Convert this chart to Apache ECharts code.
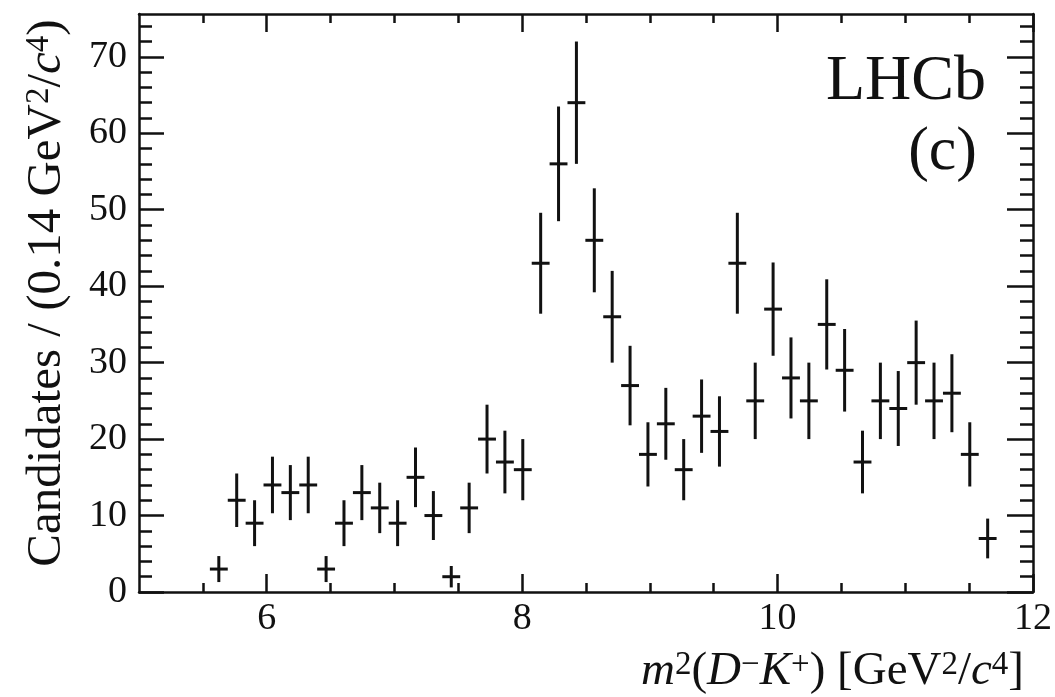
<!doctype html>
<html><head><meta charset="utf-8" />
<style>
  html,body,#app{margin:0;padding:0;width:1055px;height:697px;background:#ffffff}
</style>
<script src="https://cdn.jsdelivr.net/npm/echarts@6/dist/echarts.min.js"></script>
</head><body><div id="app"></div>
<script>
// bin centres of m^2(D-K+) [GeV^2/c^4], bin width 0.14
const binCentres = [5.625, 5.765, 5.905, 6.045, 6.185, 6.325, 6.465, 6.605, 6.745, 6.885,
  7.025, 7.165, 7.305, 7.445, 7.585, 7.725, 7.865, 8.005, 8.145, 8.285,
  8.425, 8.565, 8.705, 8.845, 8.985, 9.125, 9.265, 9.405, 9.545, 9.685,
  9.825, 9.965, 10.105, 10.245, 10.385, 10.525, 10.665, 10.805, 10.945, 11.085,
  11.225, 11.365, 11.505, 11.645];
const candidates = [3, 12, 9, 14, 13, 14, 3, 9, 13, 11,
  9, 15, 10, 2, 11, 20, 17, 16, 43, 56,
  64, 46, 36, 27, 18, 22, 16, 23, 21, 43,
  25, 37, 28, 25, 35, 29, 17, 25, 24, 30,
  25, 26, 18, 7];
const errors = [1.7, 3.5, 3.0, 3.7, 3.6, 3.7, 1.7, 3.0, 3.6, 3.3,
  3.0, 3.9, 3.2, 1.4, 3.3, 4.5, 4.1, 4.0, 6.6, 7.5,
  8.0, 6.8, 6.0, 5.2, 4.2, 4.7, 4.0, 4.8, 4.6, 6.6,
  5.0, 6.1, 5.3, 5.0, 5.9, 5.4, 4.1, 5.0, 4.9, 5.5,
  5.0, 5.1, 4.2, 2.6];
const binHalfWidth = 0.07;
const xMajorTicks = [6, 8, 10, 12];
const xMinorTicks = [5.5, 6.5, 7, 7.5, 8.5, 9, 9.5, 10.5, 11, 11.5];
const yMajorTicks = [0, 10, 20, 30, 40, 50, 60, 70];
const yMinorTicks = [2, 4, 6, 8, 12, 14, 16, 18, 22, 24, 26, 28, 32, 34, 36, 38,
  42, 44, 46, 48, 52, 54, 56, 58, 62, 64, 66, 68, 72, 74];

(function(){
  const FONT = "'Liberation Serif', 'DejaVu Serif', serif";
  const INK = '#111';
  const points = binCentres.map((x, i) => [x, candidates[i], errors[i]]);

  function xAx(pos, ticks, len, showLine, showLabel){
    return {
      type:'value', position:pos, min:5, max:12,
      axisLine:{ show:showLine, onZero:false, lineStyle:{ color:INK, width:2.5 } },
      axisTick:{ show:true, inside:true, length:len, customValues:ticks, lineStyle:{ color:INK, width:2.5 } },
      axisLabel:{ show:showLabel, customValues:ticks, margin:8, color:INK, fontSize:38, fontFamily:FONT },
      splitLine:{ show:false }
    };
  }
  function yAx(pos, ticks, len, showLine, showLabel){
    return {
      type:'value', position:pos, min:0, max:75.6,
      axisLine:{ show:showLine, onZero:false, lineStyle:{ color:INK, width:2.5 } },
      axisTick:{ show:true, inside:true, length:len, customValues:ticks, lineStyle:{ color:INK, width:2.5 } },
      axisLabel:{ show:showLabel, customValues:ticks, margin:12, color:INK, fontSize:38, fontFamily:FONT },
      splitLine:{ show:false }
    };
  }

  const normal = { fontSize:49, fontFamily:FONT, fill:INK };
  const sup = { fontSize:33, fontFamily:FONT, fill:INK, verticalAlign:'top' };
  const ital = { fontSize:49, fontFamily:FONT, fill:INK, fontStyle:'italic' };
  const xn = { fontSize:47, fontFamily:FONT, fill:INK };
  const xi = { fontSize:47, fontFamily:FONT, fill:INK, fontStyle:'italic' };
  const xs = { fontSize:33, fontFamily:FONT, fill:INK, verticalAlign:'top' };

  const chart = echarts.init(document.getElementById('app'), null, { renderer:'canvas' });
  chart.setOption({
    backgroundColor:'#ffffff',
    animation:false,
    grid:{ left:139, right:20, top:14, bottom:105 },
    xAxis:[
      xAx('bottom', xMajorTicks, 18, true, true),
      xAx('bottom', xMinorTicks, 9, false, false),
      xAx('top', xMajorTicks, 18, true, false),
      xAx('top', xMinorTicks, 9, false, false)
    ],
    yAxis:[
      yAx('left', yMajorTicks, 25, true, true),
      yAx('left', yMinorTicks, 13, false, false),
      yAx('right', yMajorTicks, 26, true, false),
      yAx('right', yMinorTicks, 13, false, false)
    ],
    series:[{
      type:'custom', xAxisIndex:0, yAxisIndex:0, data:points,
      renderItem:function(params, api){
        const x = api.value(0), y = api.value(1), e = api.value(2);
        const top = api.coord([x, y + e]), bot = api.coord([x, y - e]);
        const l = api.coord([x - binHalfWidth, y]), r = api.coord([x + binHalfWidth, y]);
        const st = { stroke:INK, lineWidth:3 };
        return { type:'group', children:[
          { type:'line', shape:{ x1:top[0], y1:top[1], x2:bot[0], y2:bot[1] }, style:st },
          { type:'line', shape:{ x1:l[0], y1:l[1], x2:r[0], y2:r[1] }, style:st }
        ]};
      }
    }],
    graphic:[
      { type:'text', x:47, y:293, rotation:Math.PI/2,
        style:{ text:'{n|Candidates / (0.14 GeV}{s|2}{n|/}{i|c}{s|4}{n|)}', align:'center', verticalAlign:'middle',
          rich:{ n:normal, s:sup, i:ital } } },
      { type:'text', x:1024, y:672,
        style:{ text:'{i|m}{s|2}{n|(}{i|D}{s|−}{i|K}{s|+}{n|) [GeV}{s|2}{n|/}{i|c}{s|4}{n|]}', align:'right', verticalAlign:'middle',
          rich:{ n:xn, s:xs, i:xi } } },
      { type:'text', x:986, y:82,
        style:{ text:'LHCb', align:'right', verticalAlign:'middle', font:"64px 'Liberation Serif', serif", fill:INK } },
      { type:'text', x:977, y:153,
        style:{ text:'(c)', align:'right', verticalAlign:'middle', font:"62px 'Liberation Serif', serif", fill:INK } }
    ]
  });
  window.chartReady = true;
})();
</script></body></html>
